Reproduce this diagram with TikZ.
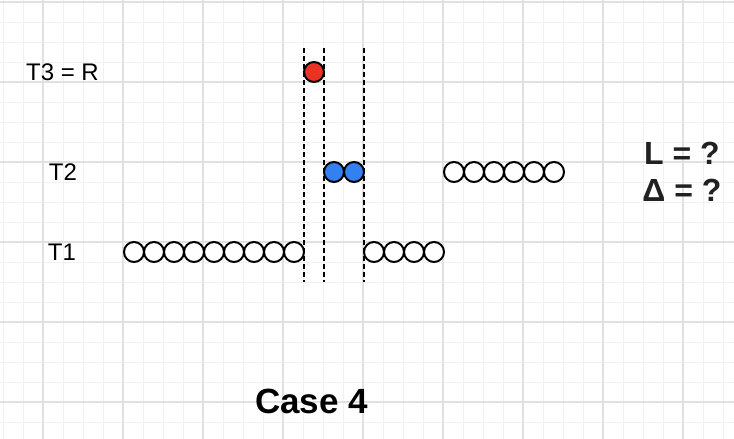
\documentclass[tikz,border=0pt]{standalone}
\usepackage{fontspec}
\setmainfont{Liberation Sans}
\usetikzlibrary{positioning}
\definecolor{ballred}{RGB}{234,51,35}
\definecolor{ballblue}{RGB}{51,128,240}
\definecolor{gridminor}{RGB}{241,241,241}
\definecolor{gridmajor}{RGB}{225,225,225}
\begin{document}
\begin{tikzpicture}[x=0.5pt,y=-0.5pt,ball/.style={circle, draw=black, line width=1pt, fill=white, minimum size=10pt, inner sep=0pt, outer sep=0pt},redball/.style={ball, fill=ballred},blueball/.style={ball, fill=ballblue},rowlabel/.style={font=\fontsize{12}{14}\selectfont},bigtext/.style={font=\fontsize{16}{18.5}\selectfont\bfseries},cut/.style={dashed, dash pattern=on 2.5pt off 1.5pt, line width=1pt},]
            \useasboundingbox[fill=white] (0,0) rectangle (734,439);
            % grid paper
            \foreach \gx in {3,23,...,733} \draw[gridminor, line width=0.5pt] (\gx,0) -- (\gx,439);
            \foreach \gy in {2,22,...,438} \draw[gridminor, line width=0.5pt] (0,\gy) -- (734,\gy);
            \foreach \gx in {43,123,...,733} \draw[gridmajor, line width=0.6pt] (\gx,0) -- (\gx,439);
            \foreach \gy in {2,82,...,438} \draw[gridmajor, line width=0.6pt] (0,\gy) -- (734,\gy);
            % cut lines
            \coordinate (cut1top) at (304,48);
            \coordinate (cut1bot) at (304,282);
            \coordinate (cut2top) at (324,48);
            \coordinate (cut2bot) at (324,282);
            \coordinate (cut3top) at (364,48);
            \coordinate (cut3bot) at (364,282);
            \draw[cut] (cut1top) -- (cut1bot);
            \draw[cut] (cut2top) -- (cut2bot);
            \draw[cut] (cut3top) -- (cut3bot);
            % T1
            \node[ball] (a1) at (134,252) {};
            \node[ball, right=0pt of a1] (a2) {};
            \node[ball, right=0pt of a2] (a3) {};
            \node[ball, right=0pt of a3] (a4) {};
            \node[ball, right=0pt of a4] (a5) {};
            \node[ball, right=0pt of a5] (a6) {};
            \node[ball, right=0pt of a6] (a7) {};
            \node[ball, right=0pt of a7] (a8) {};
            \node[ball, right=0pt of a8] (a9) {};
            \node[ball] (b1) at (374,252) {};
            \node[ball, right=0pt of b1] (b2) {};
            \node[ball, right=0pt of b2] (b3) {};
            \node[ball, right=0pt of b3] (b4) {};
            % T2
            \node[blueball] (u1) at (334,172) {};
            \node[blueball, right=0pt of u1] (u2) {};
            \node[ball] (w1) at (454,172) {};
            \node[ball, right=0pt of w1] (w2) {};
            \node[ball, right=0pt of w2] (w3) {};
            \node[ball, right=0pt of w3] (w4) {};
            \node[ball, right=0pt of w4] (w5) {};
            \node[ball, right=0pt of w5] (w6) {};
            % T3
            \node[redball] (r1) at (314,72) {};
            % labels
            \node[rowlabel] (t3) at (62.5,72) {T3 = R};
            \node[rowlabel] (t2) at (63,172) {T2};
            \node[rowlabel] (t1) at (62,252) {T1};
            \node[bigtext, text=black!87, align=center] (unknowns) at (682,171.5) {L = ?\\Δ = ?};
            \node[bigtext, font=\fontsize{17.5}{20}\selectfont\bfseries] (case) at (311.5,401) {Case 4};
        \end{tikzpicture}
\end{document}
